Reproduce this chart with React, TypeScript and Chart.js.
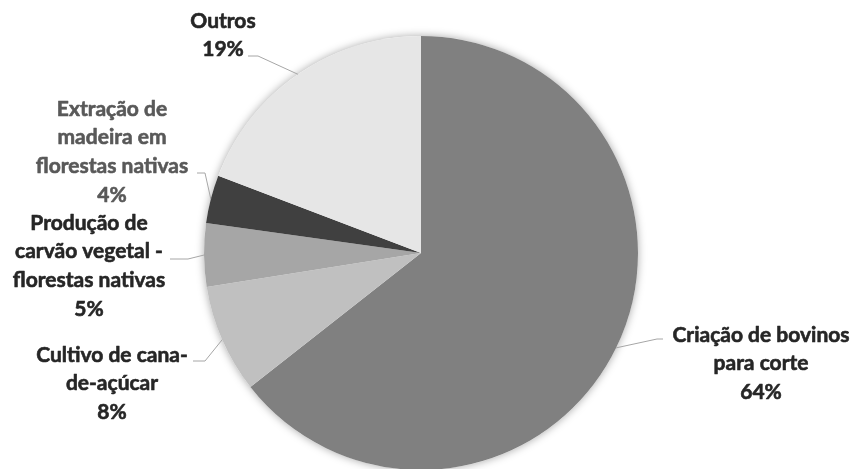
import React, { useEffect, useRef } from "react";
import { Chart, registerables } from "chart.js";

Chart.register(...registerables);

const categories = [
  "Criação de bovinos para corte",
  "Cultivo de cana-de-açúcar",
  "Produção de carvão vegetal - florestas nativas",
  "Extração de madeira em florestas nativas",
  "Outros",
];
const values = [64.4, 8.1, 4.7, 3.6, 19.2];
const labelLines = [
  ["Criação de bovinos", "para corte"],
  ["Cultivo de cana-", "de-açúcar"],
  ["Produção de", "carvão vegetal -", "florestas nativas"],
  ["Extração de", "madeira em", "florestas nativas"],
  ["Outros"],
];
const sliceColors = ["#808080", "#c0c0c0", "#a6a6a6", "#404040", "#e6e6e6"];
const labelColors = ["#262626", "#262626", "#262626", "#595959", "#262626"];

// label layout: text block centre x, first line y, leader bend point, leader end point
const labelLayout = [
  { x: 761, y: 335, bend: [657, 339], end: [663, 339] },
  { x: 112, y: 355, bend: [205, 361], end: [193, 361] },
  { x: 89, y: 223, bend: [188, 259], end: [170, 259] },
  { x: 112, y: 109, bend: [205, 173], end: [197, 173] },
  { x: 223, y: 21, bend: [258, 56], end: [248, 56] },
];

const FONT = "bold 21px Lato";
const LINE_H = 28.6;

const shadowPlugin = {
  id: "pieShadow",
  beforeDatasetsDraw(chart: any) {
    const meta = chart.getDatasetMeta(0);
    const a = meta.data[0];
    if (!a) return;
    const ctx = chart.ctx;
    ctx.save();
    ctx.shadowColor = "rgba(0,0,0,0.35)";
    ctx.shadowBlur = 8;
    ctx.fillStyle = "#ffffff";
    ctx.beginPath();
    ctx.arc(a.x, a.y, a.outerRadius, 0, Math.PI * 2);
    ctx.fill();
    ctx.restore();
  },
};

const labelPlugin = {
  id: "pieLabels",
  afterDatasetsDraw(chart: any) {
    const meta = chart.getDatasetMeta(0);
    const ctx = chart.ctx;
    const total = values.reduce((s, v) => s + v, 0);
    meta.data.forEach((arc: any, i: number) => {
      const lay = labelLayout[i];
      const mid = (arc.startAngle + arc.endAngle) / 2;
      const ax = arc.x + Math.cos(mid) * arc.outerRadius;
      const ay = arc.y + Math.sin(mid) * arc.outerRadius;
      ctx.save();
      ctx.strokeStyle = "#a6a6a6";
      ctx.lineWidth = 1;
      ctx.beginPath();
      ctx.moveTo(ax, ay);
      ctx.lineTo(lay.bend[0], lay.bend[1]);
      ctx.lineTo(lay.end[0], lay.end[1]);
      ctx.stroke();
      const lines = [...labelLines[i], Math.round((values[i] / total) * 100) + "%"];
      ctx.font = FONT;
      ctx.fillStyle = labelColors[i];
      ctx.strokeStyle = labelColors[i];
      ctx.lineWidth = 0.6;
      ctx.lineJoin = "round";
      ctx.textAlign = "center";
      ctx.textBaseline = "middle";
      lines.forEach((t, k) => {
        ctx.fillText(t, lay.x, lay.y + k * LINE_H);
        ctx.strokeText(t, lay.x, lay.y + k * LINE_H);
      });
      ctx.restore();
    });
  },
};

export default function App() {
  const ref = useRef<HTMLCanvasElement>(null);
  useEffect(() => {
    if (!ref.current) return;
    const chart = new Chart(ref.current, {
      type: "pie",
      data: {
        labels: categories,
        datasets: [
          {
            data: values,
            backgroundColor: sliceColors,
            borderWidth: 0,
            radius: 217,
          } as any,
        ],
      },
      options: {
        responsive: false,
        animation: false,
        layout: { padding: { left: 204, right: 217, top: 37, bottom: 0 } },
        plugins: {
          legend: { display: false },
          tooltip: { enabled: false },
        },
      },
      plugins: [shadowPlugin, labelPlugin],
    });
    return () => chart.destroy();
  }, []);
  return (
    <div style={{ position: "fixed", left: 0, top: 0, width: 855, height: 469, background: "#fff" }}>
      <canvas ref={ref} width={855} height={469} />
    </div>
  );
}
